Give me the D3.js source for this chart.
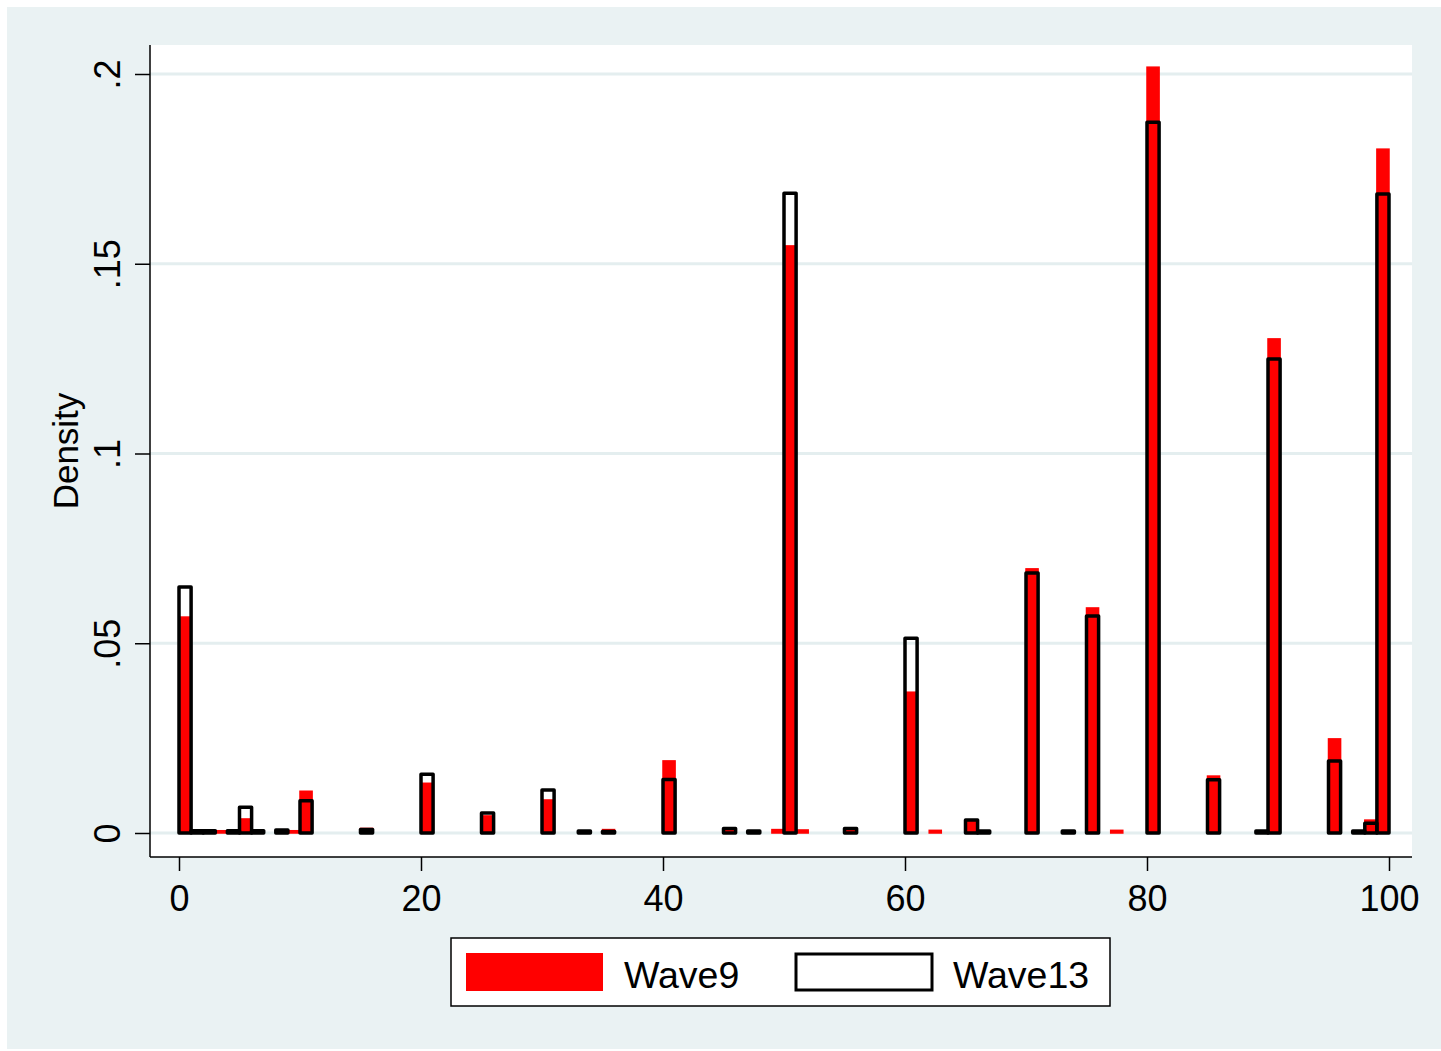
<!DOCTYPE html>
<html><head><meta charset="utf-8">
<script src="https://cdn.jsdelivr.net/npm/d3@7"></script>
<style>html,body{margin:0;padding:0;background:#fff;}svg{display:block;font-family:"Liberation Sans",Arial,Helvetica,sans-serif;}</style>
</head><body>
<script>
// Bin left edges (bin width 1) with non-zero density
const binStarts = [0,1,2,3,4,5,6,8,9,10,15,20,25,30,33,35,40,45,47,49,50,51,55,60,62,65,66,70,73,75,77,80,85,89,90,95,97,98,99];
const wave9  = [0.0569,0,0,0.0006,0,0.0037,0,0,0.0006,0.0110,0.0012,0.0131,0.0045,0.0087,0,0.0009,0.0190,0.0008,0,0.0009,0.1547,0.0008,0.0008,0.0371,0.0007,0.0032,0,0.0696,0,0.0593,0.0007,0.2018,0.0150,0,0.1302,0.0248,0,0.0034,0.1802];
const wave13 = [0.0648,0.0006,0.0006,0,0.0006,0.0068,0.0006,0.0008,0,0.0085,0.0009,0.0155,0.0053,0.0113,0.0005,0.0004,0.0141,0.0012,0.0005,0,0.1686,0,0.0012,0.0513,0,0.0034,0.0005,0.0685,0.0005,0.0572,0,0.1873,0.0140,0.0005,0.1249,0.0190,0.0005,0.0026,0.1684];
const binWidth = 1;
const xTicks = [0,20,40,60,80,100];
const yTicks = [0,0.05,0.1,0.15,0.2];
const yTickLabels = ["0",".05",".1",".15",".2"];
const seriesNames = ["Wave9","Wave13"];

const W = 1441, H = 1051;
const svg = d3.select("body").append("svg").attr("width", W).attr("height", H);
const bg = "#eaf2f3";
svg.append("rect").attr("x",7).attr("y",7).attr("width",W-7).attr("height",H-9).attr("fill",bg);
const plot = {l:150, t:45, r:1412, b:857};
svg.append("rect").attr("x",plot.l).attr("y",plot.t).attr("width",plot.r-plot.l).attr("height",plot.b-plot.t).attr("fill","#fff");

const x = d3.scaleLinear().domain([0,100]).range([179,1389]);
const y = d3.scaleLinear().domain([0,0.2]).range([833,74]);

// grid
svg.append("g").selectAll("line").data(yTicks).join("line")
  .attr("x1",plot.l).attr("x2",plot.r).attr("y1",d=>y(d)).attr("y2",d=>y(d))
  .attr("stroke","#e4eeef").attr("stroke-width",3);

const data = binStarts.map((b,i)=>({b, w9:wave9[i], w13:wave13[i]}));
// Wave9 red bars
svg.append("g").selectAll("rect").data(data.filter(d=>d.w9>0)).join("rect")
  .attr("x",d=>x(d.b)).attr("width",d=>x(d.b+binWidth)-x(d.b))
  .attr("y",d=>y(d.w9)).attr("height",d=>y(0)-y(d.w9))
  .attr("fill","#ff0000").attr("stroke","#ff0000").attr("stroke-width",1.5);
// Wave13 outline bars
svg.append("g").selectAll("rect").data(data.filter(d=>d.w13>0)).join("rect")
  .attr("x",d=>x(d.b)).attr("width",d=>x(d.b+binWidth)-x(d.b))
  .attr("y",d=>y(d.w13)).attr("height",d=>y(0)-y(d.w13))
  .attr("fill","none").attr("stroke","#000").attr("stroke-width",3.5).attr("stroke-linejoin","round");

// axes
const xAxis = d3.axisBottom(x).tickValues(xTicks).tickSize(14).tickPadding(14).tickFormat(d3.format("d"));
const gx = svg.append("g").attr("transform",`translate(0,${plot.b})`).call(xAxis);
gx.select(".domain").attr("d",`M${plot.l},0H${plot.r}`).attr("stroke","#000").attr("stroke-width",1.5);
gx.selectAll(".tick line").attr("stroke","#000").attr("stroke-width",1.5);
gx.selectAll(".tick text").attr("font-size",36).attr("fill","#000").attr("font-family","Liberation Sans, Arial, sans-serif");

const yAxis = d3.axisLeft(y).tickValues(yTicks).tickSize(15).tickFormat((d,i)=>yTickLabels[i]);
const gy = svg.append("g").attr("transform",`translate(${plot.l},0)`).call(yAxis);
gy.select(".domain").attr("d",`M0,${plot.t}V${plot.b}`).attr("stroke","#000").attr("stroke-width",1.5);
gy.selectAll(".tick line").attr("stroke","#000").attr("stroke-width",1.5);
gy.selectAll(".tick text").attr("x",null).attr("dy",null)
  .attr("transform","translate(-30,0) rotate(-90)")
  .attr("text-anchor","middle").attr("font-size",36).attr("fill","#000")
  .attr("font-family","Liberation Sans, Arial, sans-serif");

svg.append("text").attr("transform",`translate(78,${(plot.t+plot.b)/2}) rotate(-90)`)
  .attr("text-anchor","middle").attr("font-size",35).text("Density");

// legend
const lg = svg.append("g");
lg.append("rect").attr("x",451).attr("y",938).attr("width",659).attr("height",68).attr("fill","#fff").attr("stroke","#000").attr("stroke-width",1.5);
lg.append("rect").attr("x",466).attr("y",953).attr("width",137).attr("height",38).attr("fill","#ff0000");
lg.append("text").attr("x",624).attr("y",988).attr("font-size",37.5).text(seriesNames[0]);
lg.append("rect").attr("x",796).attr("y",954).attr("width",136).attr("height",36).attr("fill","#fff").attr("stroke","#000").attr("stroke-width",3);
lg.append("text").attr("x",953).attr("y",988).attr("font-size",37.5).text(seriesNames[1]);
</script>
</body></html>
